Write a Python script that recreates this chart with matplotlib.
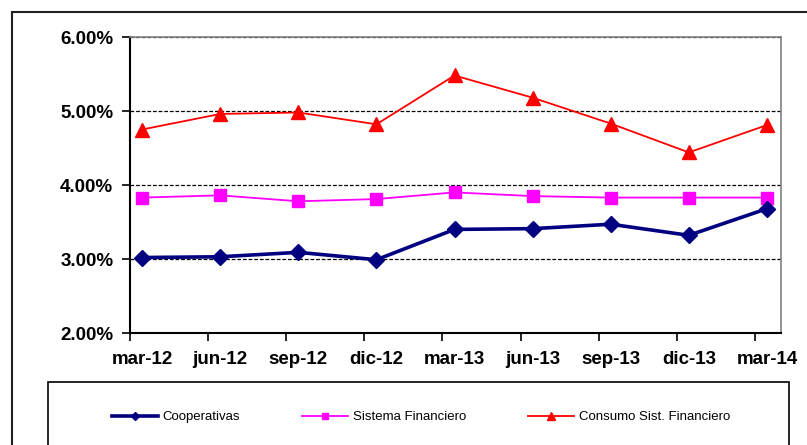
import matplotlib
matplotlib.use("Agg")
import matplotlib.pyplot as plt
import matplotlib.patches as patches
from matplotlib.ticker import FuncFormatter, FixedLocator

plt.rcParams['font.family'] = ['Liberation Sans', 'DejaVu Sans']

periods = ["mar-12", "jun-12", "sep-12", "dic-12", "mar-13", "jun-13", "sep-13", "dic-13", "mar-14"]
cooperativas = [3.02, 3.03, 3.09, 2.99, 3.40, 3.41, 3.47, 3.32, 3.68]
sistema = [3.83, 3.86, 3.78, 3.81, 3.90, 3.85, 3.83, 3.83, 3.83]
consumo = [4.75, 4.96, 4.98, 4.82, 5.48, 5.18, 4.83, 4.44, 4.81]

fig = plt.figure(figsize=(8.07, 4.45), dpi=100)
ax = fig.add_axes([130 / 807, 112 / 445, 651 / 807, 296 / 445])

x = list(range(len(periods)))
ax.plot(x, sistema, color="#FF00FF", lw=1.3, marker="s", ms=8.5, zorder=3,
        label="Sistema Financiero")
ax.plot(x, consumo, color="#FF0000", lw=1.3, marker="^", ms=10, zorder=3,
        label="Consumo Sist. Financiero")
ax.plot(x, cooperativas, color="#000080", lw=2.6, marker="D", ms=8, zorder=4,
        label="Cooperativas")

ax.set_ylim(2, 6)
ax.set_xlim(-0.155, 8.18)
ax.set_yticks([2, 3, 4, 5, 6])
ax.yaxis.set_major_formatter(FuncFormatter(lambda v, p: f"{v:.2f}%"))
ax.set_xticks(x)
ax.set_xticklabels(periods)
ax.xaxis.set_minor_locator(FixedLocator([i - 0.155 for i in x]))
ax.tick_params(axis="x", which="major", length=0, pad=13)
ax.tick_params(axis="x", which="minor", length=6, width=1.2, direction="out")
ax.tick_params(axis="y", length=6, width=1.2, direction="out", pad=6)
for lab in ax.get_xticklabels() + ax.get_yticklabels():
    lab.set_fontsize(13.5)
    lab.set_fontweight("bold")

ax.yaxis.grid(True, ls=(0, (3, 1.5)), color="black", lw=0.9)
ax.set_axisbelow(True)
for side in ["top", "right"]:
    ax.spines[side].set_color("#808080")
    ax.spines[side].set_linewidth(1.2)
for side in ["left", "bottom"]:
    ax.spines[side].set_color("black")
    ax.spines[side].set_linewidth(1.5)
ax.spines["top"].set_zorder(5)

# outer chart border and legend box (both cut off at the image edge)
fig.patches.append(patches.Rectangle((12 / 807, -20 / 445), 820 / 807, 453 / 445,
                                     transform=fig.transFigure, fill=False,
                                     ec="#202020", lw=1.5))
fig.patches.append(patches.Rectangle((48 / 807, -20 / 445), 741 / 807, 83 / 445,
                                     transform=fig.transFigure, fill=False,
                                     ec="black", lw=1.2))

h, l = ax.get_legend_handles_labels()
order = [2, 0, 1]
leg = fig.legend([h[i] for i in order], [l[i] for i in order], ncol=3,
                 loc="center left", bbox_to_anchor=(100 / 807, 28 / 445),
                 frameon=False, fontsize=9.5, handlelength=3.5,
                 handletextpad=0.35, columnspacing=4.7, markerscale=0.55)

fig.savefig("out.png", dpi=100)
